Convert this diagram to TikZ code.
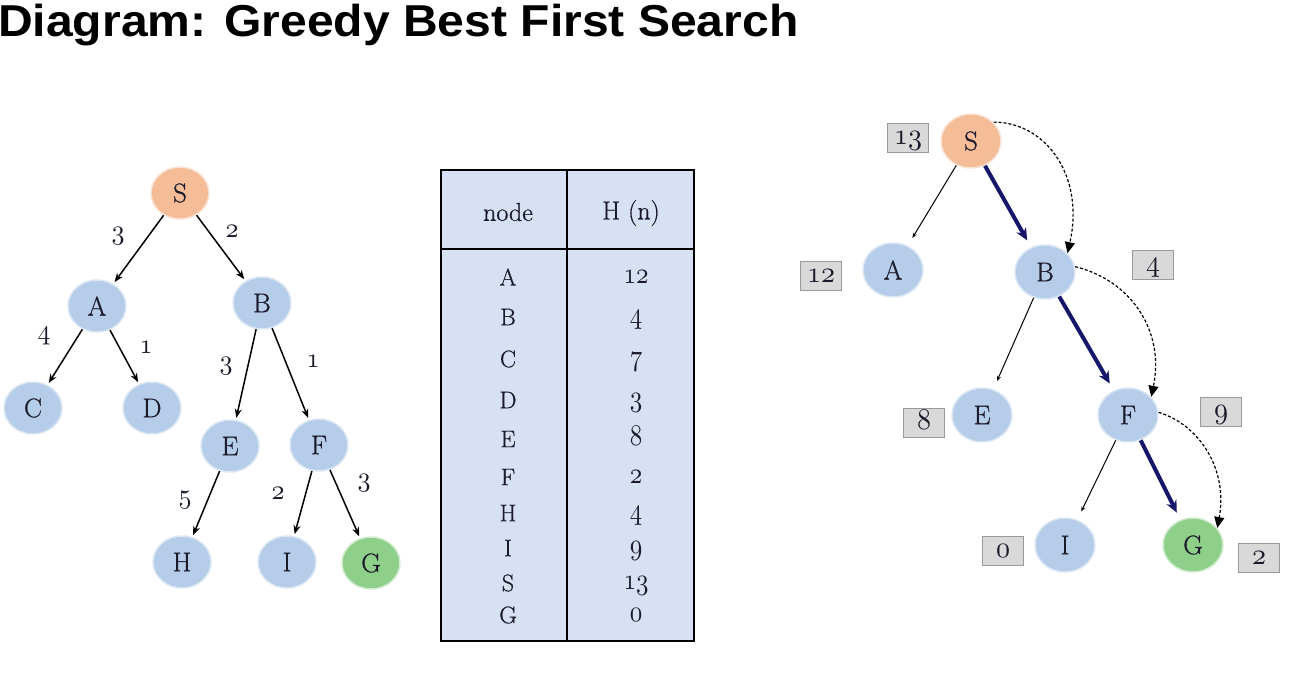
\documentclass[tikz,border=0pt]{standalone}
\usepackage{fontspec}
\newfontfamily\titlefont{Liberation Sans}
\newfontfamily\nodefont{Latin Modern Roman}[FakeBold=0.6]
\usetikzlibrary{arrows.meta,shapes.geometric}
\def\osnh{2.6}\def\osnv{2.8}
\newcommand\osn[1]{\scalebox{\osnh}[\osnv]{\fontsize{10}{10}\usefont{OML}{lmm}{m}{it}#1}}
\definecolor{nodeblue}{HTML}{B5CDE9}
\definecolor{halo}{HTML}{DCE7F4}
\definecolor{nodesalmon}{HTML}{F5BC98}
\definecolor{nodegreen}{HTML}{8ED08A}
\definecolor{tablefill}{HTML}{D7E1F3}
\definecolor{navy}{HTML}{16166A}
\definecolor{boxfill}{HTML}{D9D9D9}
\definecolor{boxdraw}{HTML}{9A9A9A}
\definecolor{txt}{HTML}{1A1A2A}
\tikzset{
  tnode/.style={ellipse, minimum width=58pt, minimum height=52pt, inner sep=0pt,
    fill=nodeblue, draw=halo, line width=1.5pt, text=txt, font=\nodefont\fontsize{27}{27}\selectfont},
  rnode/.style={tnode, minimum width=60pt, minimum height=54pt},
  startnode/.style={fill=nodesalmon, draw=nodesalmon!40!white},
  goalnode/.style={fill=nodegreen, draw=nodegreen!40!white},
  elabel/.style={font={\def\osnh{2.6}\def\osnv{2.8}}, inner sep=0pt, text=txt, text height=12pt, text depth=0pt},
  tedge/.style={line width=1.5pt, -{Stealth[length=9pt,width=7pt]}, shorten >=2pt},
  thinedge/.style={line width=1pt, -{Stealth[length=5pt,width=4pt]}, shorten >=9pt},
  pathedge/.style={line width=4pt, navy, -{Stealth[length=12pt,width=11pt]}, shorten >=8pt},
  dashedge/.style={line width=1.2pt, dash pattern=on 3pt off 2pt, -{Triangle[length=11pt,width=10pt]}},
  hbox/.style={rectangle, minimum width=41pt, minimum height=29pt, inner sep=0pt,
    fill=boxfill, draw=boxdraw, line width=1pt, text=txt, font={\def\osnh{2.8}\def\osnv{3.0}},
    text height=13pt, text depth=0pt},
  tcell/.style={font=\nodefont\fontsize{24}{24}\selectfont, inner sep=0pt, text=txt},
  tnum/.style={font={\def\osnh{2.5}\def\osnv{3.0}}, inner sep=0pt, text=txt, text height=13pt, text depth=0pt},
}
\begin{document}
\begin{tikzpicture}[x=1pt,y=-1pt]
\useasboundingbox (0,0) rectangle (1308,695);
% title
\node[anchor=base west, inner sep=0pt, font=\titlefont\bfseries\fontsize{44.7}{44.7}\selectfont] (title) at (-2,37) {\scalebox{1.075}[1]{Diagram: Greedy Best First Search}};

% left tree
\node[tnode,startnode] (lS) at (180,193) {S};
\node[tnode] (lA) at (97,306) {A};
\node[tnode] (lB) at (262,303) {B};
\node[tnode] (lC) at (33,408) {C};
\node[tnode] (lD) at (152,408) {D};
\node[tnode] (lE) at (230,446) {E};
\node[tnode] (lF) at (319,445) {F};
\node[tnode] (lH) at (182,562) {H};
\node[tnode] (lI) at (287,562) {I};
\node[tnode,goalnode] (lG) at (371,563) {G};
\draw[tedge] (lS) -- (lA);
\draw[tedge] (lS) -- (lB);
\draw[tedge] (lA) -- (lC);
\draw[tedge] (lA) -- (lD);
\draw[tedge] (lB) -- (lE);
\draw[tedge] (lB) -- (lF);
\draw[tedge] (lE) -- (lH);
\draw[tedge] (lF) -- (lI);
\draw[tedge] (lF) -- (lG);
\node[elabel] (w1) at (118,233) {\osn{3}};
\node[elabel] (w2) at (232,231) {\osn{2}};
\node[elabel] (w3) at (44,333) {\osn{4}};
\node[elabel] (w4) at (146,347) {\osn{1}};
\node[elabel] (w5) at (226,363) {\osn{3}};
\node[elabel] (w6) at (313,361) {\osn{1}};
\node[elabel] (w7) at (185,497) {\osn{5}};
\node[elabel] (w8) at (278,493) {\osn{2}};
\node[elabel] (w9) at (364,480) {\osn{3}};

% table
\draw[line width=2pt, fill=tablefill] (441,170) rectangle (694,641);
\draw[line width=2pt] (567,170) -- (567,641);
\draw[line width=2pt] (441,249) -- (694,249);
\node[tcell, font=\nodefont\fontsize{26}{26}\selectfont] (hn) at (508,212) {node};
\node[tcell, font=\nodefont\fontsize{26}{26}\selectfont] (hh) at (631,213) {H (n)};
\foreach \nm/\val/\yy [count=\i] in {A/12/277, B/4/317, C/7/359, D/3/400, E/8/439, F/2/477, H/4/513, I/9/548, S/13/583, G/0/615}{
  \node[tcell] (tn\i) at (508,\yy) {\nm};
  \node[tnum] (tv\i) at (636,\yy) {\osn{\val}};
}

% right tree
\node[rnode,startnode] (rS) at (971,141) {S};
\node[rnode] (rA) at (893,270) {A};
\node[rnode] (rB) at (1045,272) {B};
\node[rnode] (rE) at (982,415) {E};
\node[rnode] (rF) at (1128,415) {F};
\node[rnode] (rI) at (1065,545) {I};
\node[rnode,goalnode] (rG) at (1193,545) {G};
\draw[thinedge] (rS) -- (rA);
\draw[thinedge] (rB) -- (rE);
\draw[thinedge] (rF) -- (rI);
\draw[pathedge] (rS) -- (rB);
\draw[pathedge] (rB) -- (rF);
\draw[pathedge] (rF) -- (rG);
\draw[dashedge] (rS.40) .. controls (1045,122) and (1085,175) .. (rB.40);
\draw[dashedge] (rB.10) .. controls (1130,280) and (1165,330) .. (rF.38);
\draw[dashedge] (rF.5) .. controls (1200,425) and (1228,470) .. (rG.35);
\node[hbox] (hS) at (908,138) {\osn{13}};
\node[hbox] (hA) at (821,276) {\osn{12}};
\node[hbox] (hB) at (1153,265) {\osn{4}};
\node[hbox] (hE) at (924,423) {\osn{8}};
\node[hbox] (hF) at (1221,412) {\osn{9}};
\node[hbox] (hI) at (1003,551) {\osn{0}};
\node[hbox] (hG) at (1259,558) {\osn{2}};
\end{tikzpicture}
\end{document}
